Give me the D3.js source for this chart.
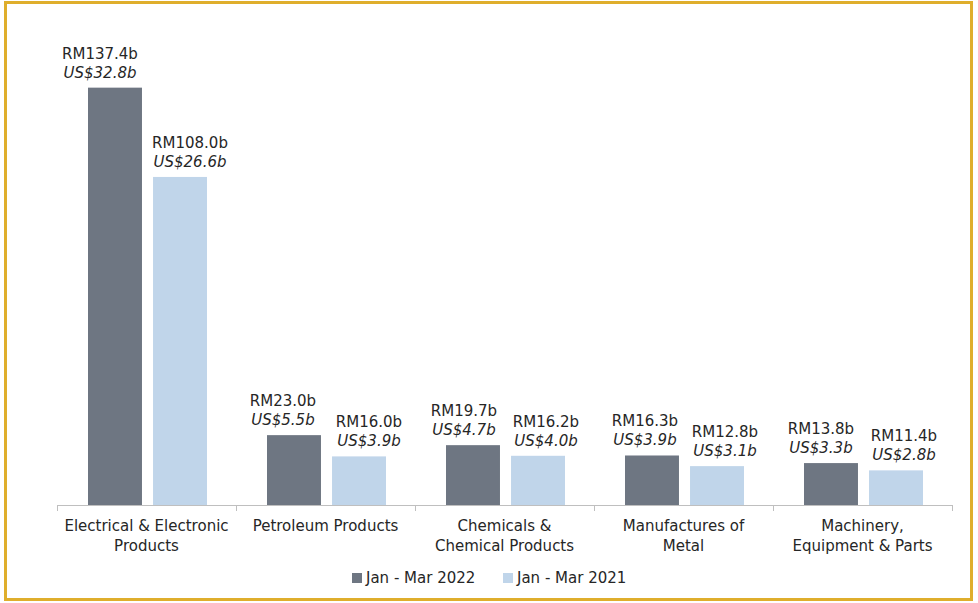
<!DOCTYPE html>
<html>
<head>
<meta charset="utf-8">
<script src="https://cdn.jsdelivr.net/npm/d3@7"></script>
<style>
  body { margin: 0; background: #fff; }
  text { font-family: "DejaVu Sans", sans-serif; fill: #262626; }
</style>
</head>
<body>
<div id="chart"></div>
<script>
// data
var categories = [
  ["Electrical & Electronic", "Products"],
  ["Petroleum Products"],
  ["Chemicals &", "Chemical Products"],
  ["Manufactures of", "Metal"],
  ["Machinery,", "Equipment & Parts"]
];
var seriesNames = ["Jan - Mar 2022", "Jan - Mar 2021"];
var rm2022 = [137.4, 23.0, 19.7, 16.3, 13.8];
var us2022 = [32.8, 5.5, 4.7, 3.9, 3.3];
var rm2021 = [108.0, 16.0, 16.2, 12.8, 11.4];
var us2021 = [26.6, 3.9, 4.0, 3.1, 2.8];
var colors = ["#6e7682", "#c0d5ea"];

// the value labels sit a little off-centre, pushed away from each other
var labelNudge = [[-15, 10], [-11, 10], [-9, 8], [-7, 8], [-10, 8]];

var W = 978, H = 603;
var svg = d3.select("#chart").append("svg")
  .attr("width", W)
  .attr("height", H);

// gold frame
svg.append("rect")
  .attr("x", 5.5).attr("y", 2.5)
  .attr("width", 966).attr("height", 597)
  .attr("fill", "none")
  .attr("stroke", "#dfae2c")
  .attr("stroke-width", 3);

var x0 = d3.scaleBand()
  .domain(d3.range(categories.length))
  .range([57, 952]);

var x1 = d3.scaleBand()
  .domain([0, 1])
  .range([31, 150])
  .paddingInner(0.17);

var y = d3.scaleLinear()
  .domain([0, 160])
  .range([505, 19]);

// axis line + ticks
var axis = svg.append("g");
axis.append("line")
  .attr("x1", 57).attr("x2", 952)
  .attr("y1", 505.5).attr("y2", 505.5)
  .attr("stroke", "#bfbfbf");
axis.selectAll(".tk")
  .data(d3.range(categories.length + 1))
  .enter().append("line")
  .attr("x1", function (d) { return Math.round(57 + d * x0.step()) + 0.5; })
  .attr("x2", function (d) { return Math.round(57 + d * x0.step()) + 0.5; })
  .attr("y1", 505).attr("y2", 511)
  .attr("stroke", "#bfbfbf");

var rows = categories.map(function (c, i) {
  return [
    { i: i, s: 0, rm: rm2022[i], us: us2022[i] },
    { i: i, s: 1, rm: rm2021[i], us: us2021[i] }
  ];
});

var groups = svg.selectAll(".grp")
  .data(rows)
  .enter().append("g")
  .attr("transform", function (d, i) { return "translate(" + x0(i) + ",0)"; });

groups.selectAll("rect")
  .data(function (d) { return d; })
  .enter().append("rect")
  .attr("x", function (d) { return x1(d.s); })
  .attr("width", x1.bandwidth())
  .attr("y", function (d) { return y(d.rm); })
  .attr("height", function (d) { return y(0) - y(d.rm); })
  .attr("fill", function (d) { return colors[d.s]; });

function labelX(d) {
  return x1(d.s) + x1.bandwidth() / 2 + labelNudge[d.i][d.s];
}

groups.selectAll(".rm")
  .data(function (d) { return d; })
  .enter().append("text")
  .attr("x", labelX)
  .attr("y", function (d) { return y(d.rm) - 29; })
  .attr("text-anchor", "middle")
  .style("font-size", "15px")
  .text(function (d) { return "RM" + d.rm.toFixed(1) + "b"; });

groups.selectAll(".us")
  .data(function (d) { return d; })
  .enter().append("text")
  .attr("x", labelX)
  .attr("y", function (d) { return y(d.rm) - 10; })
  .attr("text-anchor", "middle")
  .style("font-size", "15px")
  .style("font-style", "italic")
  .text(function (d) { return "US$" + d.us.toFixed(1) + "b"; });

// category labels
var catLabels = svg.selectAll(".cat")
  .data(categories)
  .enter().append("text")
  .attr("text-anchor", "middle")
  .style("font-size", "15px")
  .attr("transform", function (d, i) { return "translate(" + (x0(i) + x0.bandwidth() / 2) + ",531)"; });
catLabels.selectAll("tspan")
  .data(function (d) { return d; })
  .enter().append("tspan")
  .attr("x", 0)
  .attr("y", function (d, j) { return j * 20; })
  .text(function (d) { return d; });

// legend
var legendX = [352, 503];
var legend = svg.selectAll(".leg")
  .data(seriesNames)
  .enter().append("g")
  .attr("transform", function (d, i) { return "translate(" + legendX[i] + ",573)"; });
legend.append("rect")
  .attr("width", 10).attr("height", 10)
  .attr("fill", function (d, i) { return colors[i]; });
legend.append("text")
  .attr("x", 14).attr("y", 10)
  .style("font-size", "15px")
  .text(function (d) { return d; });
</script>
</body>
</html>
